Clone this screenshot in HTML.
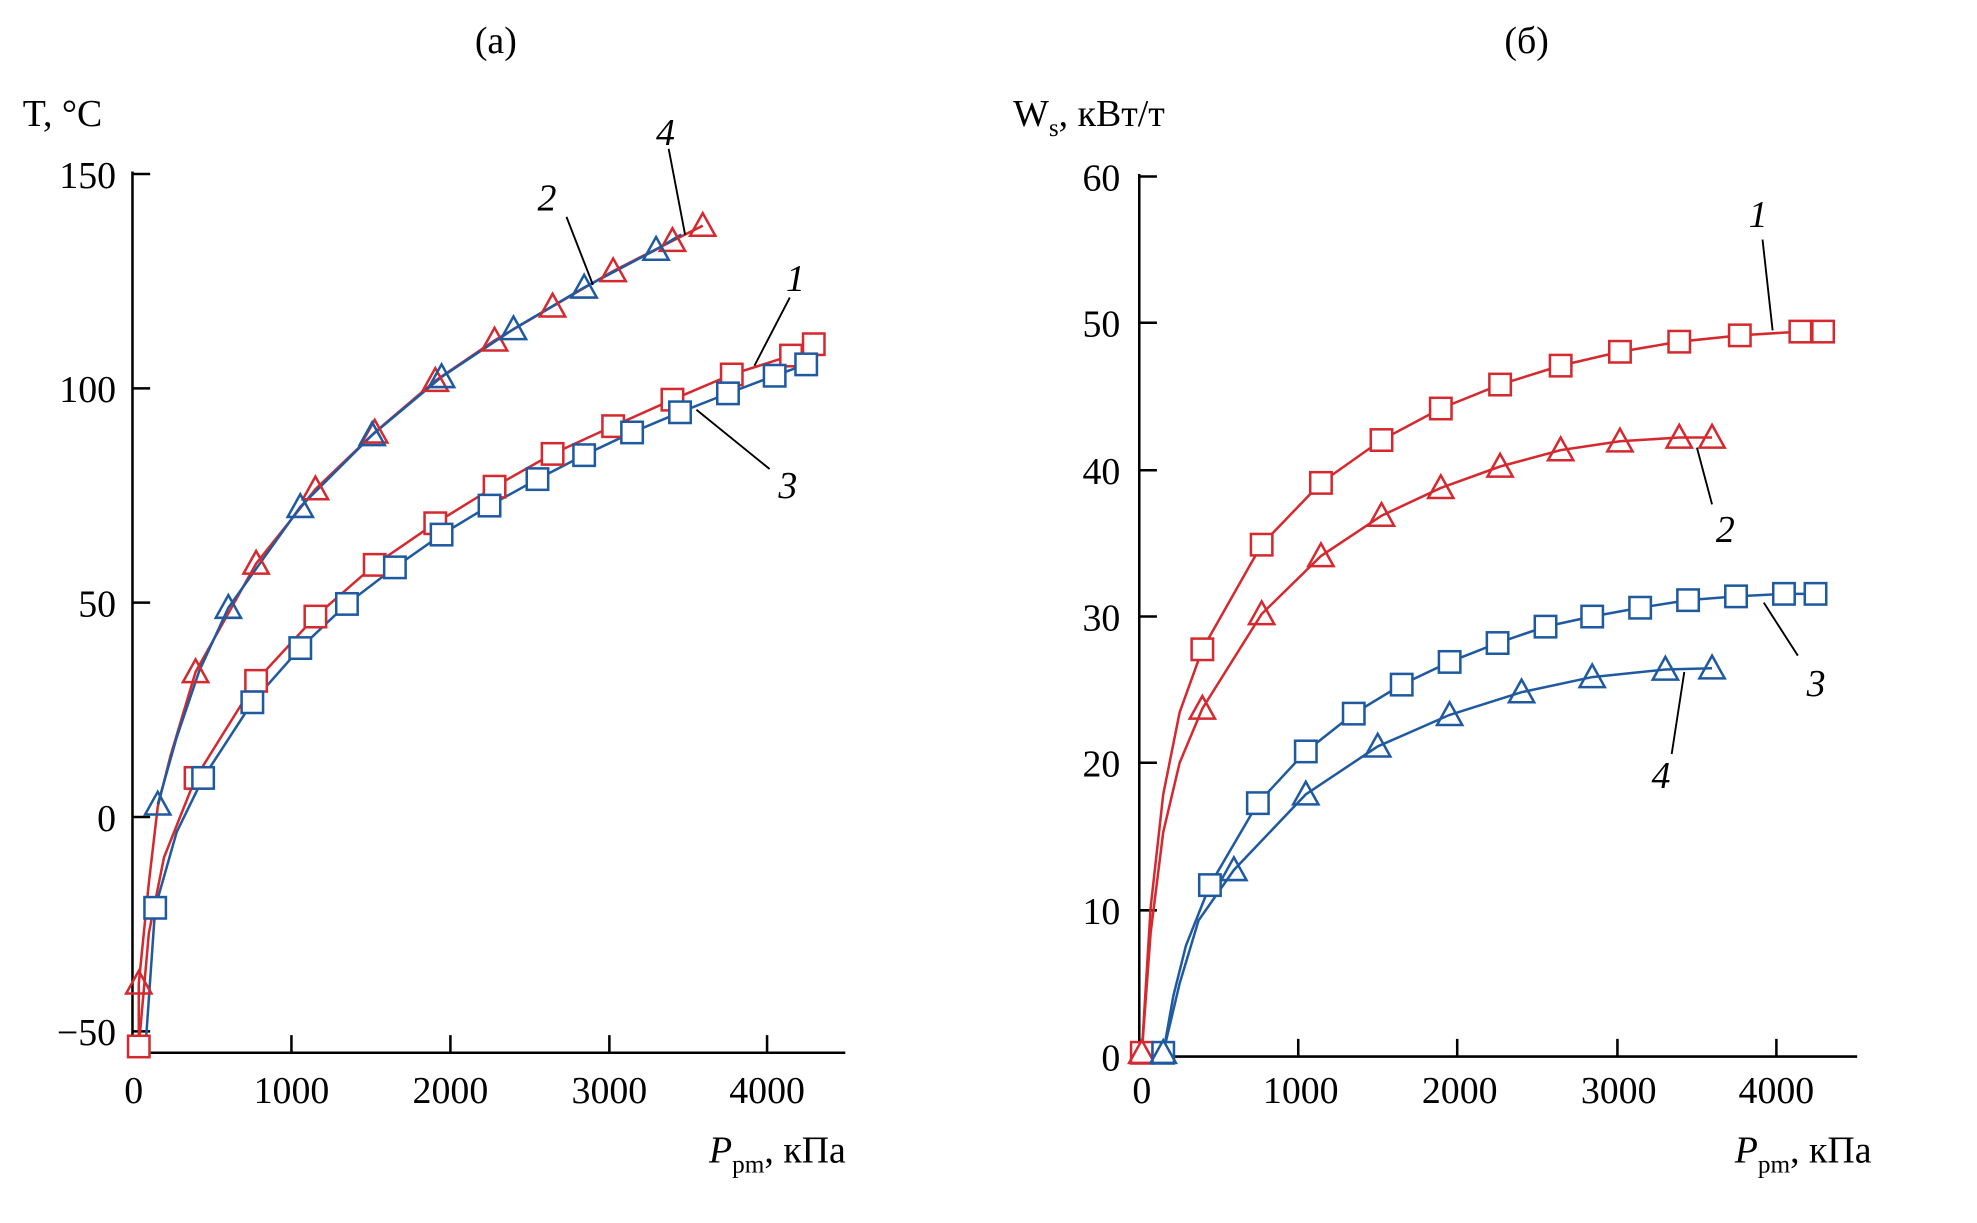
<!DOCTYPE html>
<html><head><meta charset="utf-8"><style>html,body{margin:0;padding:0;background:#fff}svg{display:block}</style></head>
<body>
<svg width="1977" height="1223" viewBox="0 0 1567 970" preserveAspectRatio="none" xmlns="http://www.w3.org/2000/svg" font-family="Liberation Serif, serif" font-size="30">
<defs>
<g id="sqR"><rect x="-8.5" y="-8.5" width="17" height="17" fill="#fff" stroke="#d42a2f" stroke-width="2"/></g>
<g id="sqB"><rect x="-8.5" y="-8.5" width="17" height="17" fill="#fff" stroke="#1f5aa0" stroke-width="2"/></g>
<g id="trR"><path d="M0,-10 L10,8 L-10,8 Z" fill="none" stroke="#d42a2f" stroke-width="2"/></g>
<g id="trB"><path d="M0,-10 L10,8 L-10,8 Z" fill="none" stroke="#1f5aa0" stroke-width="2"/></g>
</defs>
<text x="393" y="42" text-anchor="middle">(а)</text>
<text x="1210" y="42" text-anchor="middle">(б)</text>
<!-- left axes -->
<g stroke="#000" stroke-width="2" fill="none">
<path d="M105,136 V835 H670"/>
<path d="M105,138 H119 M105,308 H119 M105,478 H119 M105,648 H119 M105,818 H119"/>
<path d="M231,835 V821 M357,835 V821 M483,835 V821 M608,835 V821"/>
</g>
<g text-anchor="end"><text x="92" y="149">150</text><text x="92" y="319">100</text><text x="92" y="489">50</text><text x="92" y="659">0</text><text x="92" y="829">−50</text></g>
<g text-anchor="middle"><text x="106" y="875">0</text><text x="231" y="875">1000</text><text x="357" y="875">2000</text><text x="483" y="875">3000</text><text x="608" y="875">4000</text></g>
<text x="18" y="100">T, °C</text>
<text x="562" y="922"><tspan font-style="italic">P</tspan><tspan font-size="20" dy="8">pm</tspan><tspan dy="-8">, кПа</tspan></text>
<!-- left series -->
<g fill="none" stroke-width="2">
<polyline stroke="#d42a2f" points="110,835 110,780 118,700 125,640 135,600 155,533 203,447 250,388 297,343 345,302 392,270 438,243 486,215 533,191 557,179"/>
<polyline stroke="#1f5aa0" points="125,638 140,585 158,532 181,482 238,402 295,345 350,299 407,261 463,228 520,198 540,186"/>
<polyline stroke="#d42a2f" points="110,830 118,740 130,680 155,617 203,540 250,489 297,448 345,415 392,386 438,360 486,338 533,317 580,297 627,282 645,273"/>
<polyline stroke="#1f5aa0" points="115,835 123,720 140,660 161,617 200,557 238,514 275,479 313,450 350,424 388,401 426,380 463,361 501,343 539,327 577,312 614,298 639,289"/>
</g>
<g>
<use href="#trR" x="110" y="780"/><use href="#trR" x="155" y="533"/><use href="#trR" x="203" y="447"/><use href="#trR" x="250" y="388"/><use href="#trR" x="297" y="343"/><use href="#trR" x="345" y="302"/><use href="#trR" x="392" y="270"/><use href="#trR" x="438" y="243"/><use href="#trR" x="486" y="215"/><use href="#trR" x="533" y="191"/><use href="#trR" x="557" y="179"/>
<use href="#trB" x="125" y="638"/><use href="#trB" x="181" y="482"/><use href="#trB" x="238" y="402"/><use href="#trB" x="295" y="345"/><use href="#trB" x="350" y="299"/><use href="#trB" x="407" y="261"/><use href="#trB" x="463" y="228"/><use href="#trB" x="520" y="198"/>
<use href="#sqR" x="110" y="830"/><use href="#sqR" x="155" y="617"/><use href="#sqR" x="203" y="540"/><use href="#sqR" x="250" y="489"/><use href="#sqR" x="297" y="448"/><use href="#sqR" x="345" y="415"/><use href="#sqR" x="392" y="386"/><use href="#sqR" x="438" y="360"/><use href="#sqR" x="486" y="338"/><use href="#sqR" x="533" y="317"/><use href="#sqR" x="580" y="297"/><use href="#sqR" x="627" y="282"/><use href="#sqR" x="645" y="273"/>
<use href="#sqB" x="123" y="720"/><use href="#sqB" x="161" y="617"/><use href="#sqB" x="200" y="557"/><use href="#sqB" x="238" y="514"/><use href="#sqB" x="275" y="479"/><use href="#sqB" x="313" y="450"/><use href="#sqB" x="350" y="424"/><use href="#sqB" x="388" y="401"/><use href="#sqB" x="426" y="380"/><use href="#sqB" x="463" y="361"/><use href="#sqB" x="501" y="343"/><use href="#sqB" x="539" y="327"/><use href="#sqB" x="577" y="312"/><use href="#sqB" x="614" y="298"/><use href="#sqB" x="639" y="289"/>
</g>
<g stroke="#000" stroke-width="1.5"><path d="M449,172 L470,226 M530,118 L543,186 M626,236 L598,290 M552,325 L610,372"/></g>
<g font-style="italic"><text x="426" y="167">2</text><text x="520" y="115">4</text><text x="623" y="231">1</text><text x="617" y="395">3</text></g>
<!-- right axes -->
<g stroke="#000" stroke-width="2" fill="none">
<path d="M903,138 V838 H1472"/>
<path d="M903,140 H917 M903,256 H917 M903,373 H917 M903,489 H917 M903,605 H917 M903,722 H917"/>
<path d="M1029,838 V824 M1155,838 V824 M1282,838 V824 M1408,838 V824"/>
</g>
<g text-anchor="end"><text x="888" y="151">60</text><text x="888" y="267">50</text><text x="888" y="384">40</text><text x="888" y="500">30</text><text x="888" y="616">20</text><text x="888" y="733">10</text><text x="888" y="849">0</text></g>
<g text-anchor="middle"><text x="905" y="875">0</text><text x="1031" y="875">1000</text><text x="1157" y="875">2000</text><text x="1283" y="875">3000</text><text x="1408" y="875">4000</text></g>
<text x="803" y="100">W<tspan font-size="20" dy="8">s</tspan><tspan dy="-8">, кВт/т</tspan></text>
<text x="1375" y="922"><tspan font-style="italic">P</tspan><tspan font-size="20" dy="8">pm</tspan><tspan dy="-8">, кПа</tspan></text>
<g fill="none" stroke-width="2">
<polyline stroke="#d42a2f" points="905,835 912,720 922,630 935,565 953,515 1000,432 1047,383 1095,349 1142,324 1189,305 1237,290 1284,279 1331,271 1379,266 1427,263 1445,263"/>
<polyline stroke="#d42a2f" points="905,835 912,740 922,660 935,605 953,562 1000,487 1047,441 1095,409 1142,387 1189,370 1237,357 1284,350 1331,347 1357,347"/>
<polyline stroke="#1f5aa0" points="922,835 930,790 940,750 959,702 997,637 1035,596 1073,566 1111,543 1149,525 1187,510 1225,497 1262,489 1300,482 1338,476 1376,473 1414,471 1439,471"/>
<polyline stroke="#1f5aa0" points="922,835 935,780 950,730 978,690 1035,630 1092,592 1149,567 1206,549 1262,537 1320,531 1357,530"/>
</g>
<g>
<use href="#sqR" x="905" y="835"/><use href="#sqR" x="953" y="515"/><use href="#sqR" x="1000" y="432"/><use href="#sqR" x="1047" y="383"/><use href="#sqR" x="1095" y="349"/><use href="#sqR" x="1142" y="324"/><use href="#sqR" x="1189" y="305"/><use href="#sqR" x="1237" y="290"/><use href="#sqR" x="1284" y="279"/><use href="#sqR" x="1331" y="271"/><use href="#sqR" x="1379" y="266"/><use href="#sqR" x="1427" y="263"/><use href="#sqR" x="1445" y="263"/>
<use href="#trR" x="905" y="835"/><use href="#trR" x="953" y="562"/><use href="#trR" x="1000" y="487"/><use href="#trR" x="1047" y="441"/><use href="#trR" x="1095" y="409"/><use href="#trR" x="1142" y="387"/><use href="#trR" x="1189" y="370"/><use href="#trR" x="1237" y="357"/><use href="#trR" x="1284" y="350"/><use href="#trR" x="1331" y="347"/><use href="#trR" x="1357" y="347"/>
<use href="#sqB" x="922" y="835"/><use href="#sqB" x="959" y="702"/><use href="#sqB" x="997" y="637"/><use href="#sqB" x="1035" y="596"/><use href="#sqB" x="1073" y="566"/><use href="#sqB" x="1111" y="543"/><use href="#sqB" x="1149" y="525"/><use href="#sqB" x="1187" y="510"/><use href="#sqB" x="1225" y="497"/><use href="#sqB" x="1262" y="489"/><use href="#sqB" x="1300" y="482"/><use href="#sqB" x="1338" y="476"/><use href="#sqB" x="1376" y="473"/><use href="#sqB" x="1414" y="471"/><use href="#sqB" x="1439" y="471"/>
<use href="#trB" x="922" y="835"/><use href="#trB" x="978" y="690"/><use href="#trB" x="1035" y="630"/><use href="#trB" x="1092" y="592"/><use href="#trB" x="1149" y="567"/><use href="#trB" x="1206" y="549"/><use href="#trB" x="1262" y="537"/><use href="#trB" x="1320" y="531"/><use href="#trB" x="1357" y="530"/>
</g>
<g stroke="#000" stroke-width="1.5"><path d="M1397,190 L1405,262 M1345,355 L1357,400 M1398,478 L1425,520 M1335,533 L1325,598"/></g>
<g font-style="italic"><text x="1386" y="180">1</text><text x="1360" y="430">2</text><text x="1432" y="552">3</text><text x="1309" y="625">4</text></g>
</svg>
</body></html>
